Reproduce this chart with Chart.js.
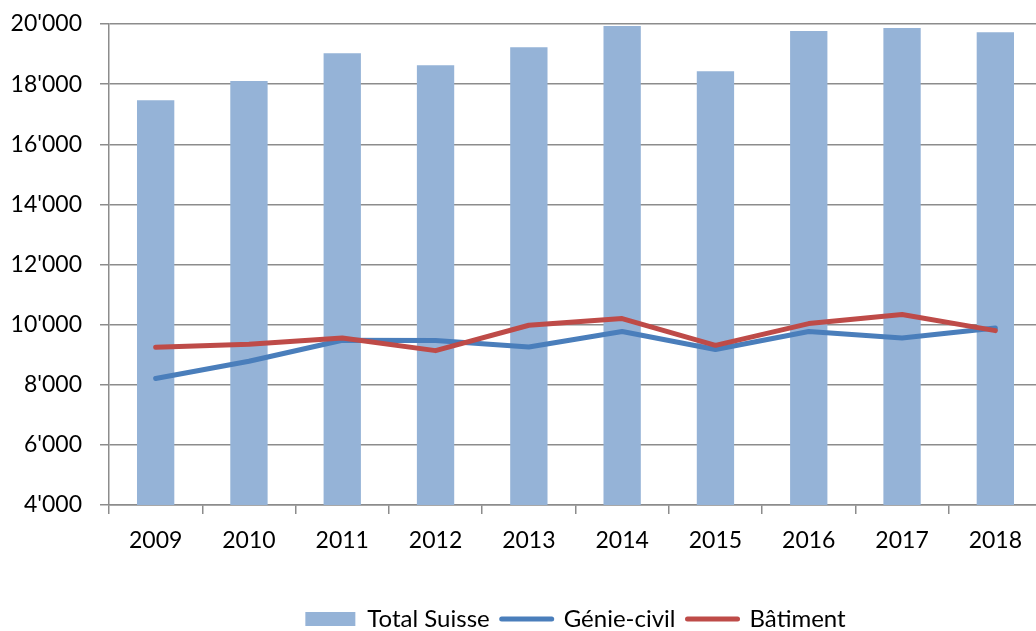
<!DOCTYPE html>
<html><head><meta charset="utf-8">
<script src="https://cdn.jsdelivr.net/npm/chart.js@4/dist/chart.umd.min.js"></script>
<style>html,body{margin:0;padding:0;background:#fff;overflow:hidden;}#wrap{width:1036px;height:631px;position:relative;overflow:hidden;}canvas{display:block;}</style>
</head><body><div id="wrap"><canvas id="c" width="1042" height="631"></canvas></div>
<script>
const categories = ['2009','2010','2011','2012','2013','2014','2015','2016','2017','2018'];
const totalSuisse = [17460, 18100, 19030, 18630, 19230, 19930, 18430, 19770, 19870, 19725];
const genieCivil = [8210, 8780, 9480, 9470, 9255, 9770, 9170, 9770, 9555, 9890];
const batiment = [9245, 9345, 9555, 9135, 9980, 10200, 9310, 10035, 10335, 9800];
const seriesNames = ['Total Suisse', 'Génie-civil', 'Bâtiment'];
const yMin = 4000, yMax = 20000, yStep = 2000;

function fmt(v){ return String(Math.round(v)).replace(/\B(?=(\d{3})+(?!\d))/g, "'"); }

Chart.defaults.font.family = 'Lato, "Open Sans", sans-serif';
Chart.defaults.color = '#000';
const axisGray = '#8c8c8c';

const centerLegendOnPlot = {
  id: 'centerLegendOnPlot',
  afterLayout(chart) {
    const lg = chart.legend;
    if (!lg) return;
    const area = chart.chartArea;
    const shift = (area.left + area.right) / 2 - (lg.left + lg.right) / 2;
    lg.left += shift;
    lg.right += shift;
  }
};

new Chart(document.getElementById('c'), {
  data: {
    labels: categories,
    datasets: [
      { type: 'bar', label: seriesNames[0], data: totalSuisse, backgroundColor: '#95B3D7', borderWidth: 0, barPercentage: 0.8, categoryPercentage: 0.5, order: 2 },
      { type: 'line', label: seriesNames[1], data: genieCivil, borderColor: '#4A7EBB', backgroundColor: '#4A7EBB', borderWidth: 5, pointRadius: 0, tension: 0, order: 1, borderCapStyle: 'round', borderJoinStyle: 'round' },
      { type: 'line', label: seriesNames[2], data: batiment, borderColor: '#BE4B48', backgroundColor: '#BE4B48', borderWidth: 5, pointRadius: 0, tension: 0, order: 0, borderCapStyle: 'round', borderJoinStyle: 'round' }
    ]
  },
  plugins: [centerLegendOnPlot],
  options: {
    responsive: false,
    animation: false,
    layout: { padding: { left: 0, right: 0, top: 24, bottom: -10 } },
    plugins: {
      tooltip: { enabled: false },
      legend: {
        position: 'bottom',
        labels: {
          font: { size: 24 },
          usePointStyle: true,
          pointStyleWidth: 50,
          boxHeight: 14,
          padding: 12,
          generateLabels: (chart) => {
            const ds = chart.data.datasets;
            return ds.map((d, i) => ({
              text: d.label,
              fillStyle: d.type === 'bar' ? d.backgroundColor : d.borderColor,
              strokeStyle: d.type === 'bar' ? d.backgroundColor : d.borderColor,
              lineWidth: d.type === 'bar' ? 0 : 5,
              pointStyle: d.type === 'bar' ? 'rect' : 'line',
              lineCap: 'round',
              datasetIndex: i,
              hidden: false
            }));
          }
        }
      }
    },
    scales: {
      x: {
        offset: true,
        grid: { drawOnChartArea: false, offset: true, color: axisGray, lineWidth: 1.5, tickLength: 9 },
        border: { color: axisGray, width: 1.5 },
        ticks: { font: { size: 23 }, padding: 13, maxRotation: 0 },
        afterFit: (s) => { s.height = 90; }
      },
      y: {
        min: yMin, max: yMax,
        grid: { color: axisGray, lineWidth: 1.5, tickLength: 9 },
        border: { color: axisGray, width: 1.5 },
        ticks: { stepSize: yStep, font: { size: 23 }, padding: 18, callback: (v) => fmt(v) },
        afterFit: (s) => { s.width = 109; s.paddingTop = 0; s.paddingBottom = 0; }
      }
    }
  }
});
</script></body></html>
